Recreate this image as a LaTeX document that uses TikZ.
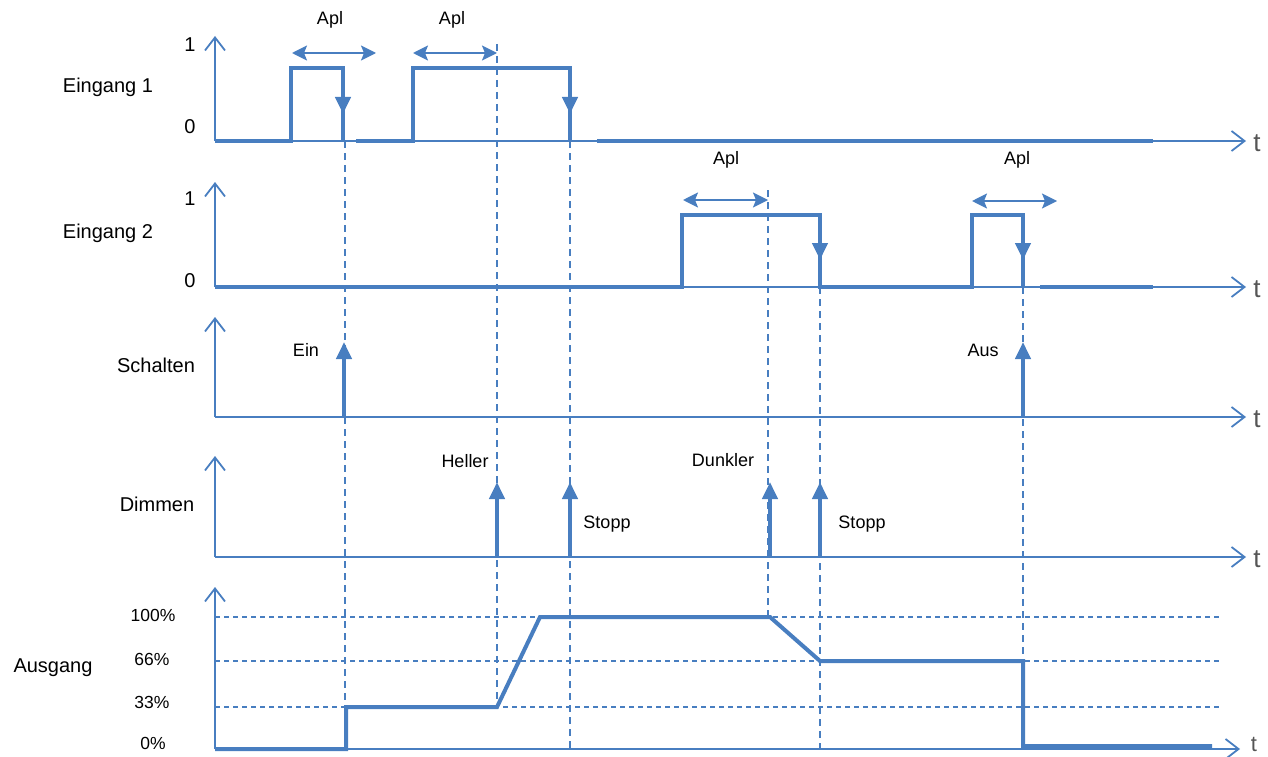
\documentclass[tikz,border=0pt]{standalone}
\usepackage{fontspec}
\setmainfont{Liberation Sans}
\usetikzlibrary{arrows.meta}
\definecolor{sb}{RGB}{72,126,192}
\definecolor{tg}{RGB}{85,85,85}
\tikzset{
  axis/.style={draw=sb,line width=1.8pt,-{Straight Barb[length=13pt,width=20pt,line width=1.8pt]}},
  sig/.style={draw=sb,line width=4pt},
  edge/.style={draw=sb,line width=4pt,-{Triangle[length=17pt,width=15pt]}},
  pulse/.style={draw=sb,line width=4pt,-{Triangle[length=17pt,width=15pt]}},
  apl/.style={draw=sb,line width=1.8pt,{Stealth[length=15pt,width=15pt,inset=3pt]}-{Stealth[length=15pt,width=15pt,inset=3pt]}},
  vdash/.style={draw=sb,line width=1.5pt,dash pattern=on 7pt off 5pt},
  hdash/.style={draw=sb,line width=1.2pt,dash pattern=on 5pt off 4pt},
  rowlab/.style={font=\fontsize{20}{24}\selectfont,inner sep=0pt},
  lab/.style={font=\fontsize{18}{22}\selectfont,inner sep=0pt},
  pct/.style={font=\fontsize{17.5}{21}\selectfont,inner sep=0pt},
  tlab/.style={font=\fontsize{26}{30}\selectfont,text=tg,inner sep=0pt},
}
\begin{document}
\begin{tikzpicture}[x=1pt,y=-1pt]
\useasboundingbox (0,0) rectangle (1268,757);
% ---------- coordinates ----------
\coordinate (o1) at (215,141); \coordinate (top1) at (215,36); \coordinate (e1) at (1246,141);
\coordinate (o2) at (215,287); \coordinate (top2) at (215,182); \coordinate (e2) at (1246,287);
\coordinate (o3) at (215,417); \coordinate (top3) at (215,317); \coordinate (e3) at (1246,417);
\coordinate (o4) at (215,557); \coordinate (top4) at (215,456); \coordinate (e4) at (1246,557);
\coordinate (o5) at (215,749); \coordinate (top5) at (215,587); \coordinate (e5) at (1240,749);
% ---------- horizontal dashed levels ----------
\draw[hdash] (215,617) -- (1222,617);
\draw[hdash] (215,661) -- (1222,661);
\draw[hdash] (215,707) -- (1222,707);
% ---------- vertical dashed lines ----------
\draw[vdash] (345,141) -- (345,707);
\draw[vdash] (497,44) -- (497,707);
\draw[vdash] (570,141) -- (570,749);
\draw[vdash] (768,190) -- (768,617);
\draw[vdash] (820,287) -- (820,749);
\draw[vdash] (1023,287) -- (1023,661);
% ---------- axes ----------
\foreach \i in {1,...,5}{
  \draw[axis] (o\i) -- (top\i);
  \draw[axis] (o\i) -- (e\i);
}
% ---------- Eingang 1 ----------
\draw[sig] (215,141) -- (291,141) -- (291,68) -- (343,68) -- (343,100);
\draw[edge] (343,68) -- (343,114);
\draw[sig] (343,100) -- (343,141);
\draw[sig] (356,141) -- (413,141) -- (413,68) -- (570,68) -- (570,100);
\draw[edge] (570,68) -- (570,114);
\draw[sig] (570,100) -- (570,141);
\draw[sig] (597,141) -- (1153,141);
\draw[apl] (292,53) -- (376,53);
\draw[apl] (413,53) -- (497,53);
% ---------- Eingang 2 ----------
\draw[sig] (215,287) -- (682,287) -- (682,215) -- (820,215) -- (820,245);
\draw[edge] (820,215) -- (820,260);
\draw[sig] (820,245) -- (820,287) -- (972,287) -- (972,215) -- (1023,215) -- (1023,245);
\draw[edge] (1023,215) -- (1023,260);
\draw[sig] (1023,245) -- (1023,287);
\draw[sig] (1040,287) -- (1153,287);
\draw[apl] (683,200) -- (768,200);
\draw[apl] (972,201) -- (1057,201);
% ---------- Schalten ----------
\draw[pulse] (344,417) -- (344,342);
\draw[pulse] (1023,417) -- (1023,342);
% ---------- Dimmen ----------
\draw[pulse] (497,557) -- (497,482);
\draw[pulse] (570,557) -- (570,482);
\draw[pulse] (770,557) -- (770,482);
\draw[pulse] (820,557) -- (820,482);
% ---------- Ausgang ----------
\draw[sig,line join=miter] (215,749) -- (346,749) -- (346,707) -- (497,707) -- (540,617) -- (770,617) -- (820,661) -- (1023,661) -- (1023,746) -- (1212,746);
% ---------- labels ----------
\node[rowlab] (l1) at (108,87) {Eingang 1};
\node[rowlab] (l2) at (108,233) {Eingang 2};
\node[rowlab] (l3) at (156,365) {Schalten};
\node[rowlab] (l4) at (157,504) {Dimmen};
\node[rowlab] (l5) at (53,668) {Ausgang};
\node[rowlab] (one1) at (190,45) {1};
\node[rowlab] (zero1) at (190,127) {0};
\node[rowlab] (one2) at (190,199) {1};
\node[rowlab] (zero2) at (190,281) {0};
\node[pct] (p100) at (153,615) {100\%};
\node[pct] (p66) at (152,659) {66\%};
\node[pct] (p33) at (152,702) {33\%};
\node[pct] (p0) at (153,743) {0\%};
\node[lab] (a1) at (330,20) {Apl};
\node[lab] (a2) at (452,20) {Apl};
\node[lab] (a3) at (726,160) {Apl};
\node[lab] (a4) at (1017,160) {Apl};
\node[lab] (ein) at (306,350) {Ein};
\node[lab] (aus) at (983,350) {Aus};
\node[lab] (hel) at (465,461) {Heller};
\node[lab] (st1) at (607,524) {Stopp};
\node[lab] (dun) at (723,460) {Dunkler};
\node[lab] (st2) at (862,524) {Stopp};
\node[tlab] (t1) at (1257,143) {t};
\node[tlab] (t2) at (1257,289) {t};
\node[tlab] (t3) at (1257,419) {t};
\node[tlab] (t4) at (1257,559) {t};
\node[tlab,font=\fontsize{22}{26}\selectfont] (t5) at (1254,744) {t};
\end{tikzpicture}
\end{document}
